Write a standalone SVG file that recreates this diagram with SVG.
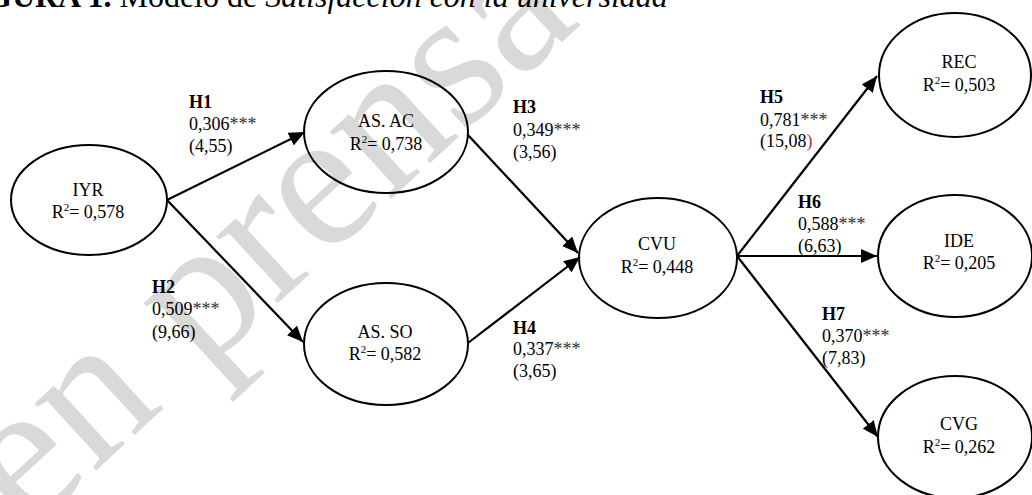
<svg xmlns="http://www.w3.org/2000/svg" width="1032" height="495" viewBox="0 0 1032 495">
  <style>
    text { font-family: "Liberation Serif", "Times New Roman", serif; fill: #000; }
    .node ellipse { fill: none; stroke: #000; stroke-width: 2; }
    .nt { font-size: 18px; text-anchor: middle; }
    .sup { font-size: 11px; }
    .lbl { font-size: 18px; }
    .h { font-weight: bold; }
    .ast { fill: #333; }
    .edge { stroke: #000; stroke-width: 2.2; fill: none; marker-end: url(#arr); }
    .wm { font-size: 198px; fill: #d9d9d9; }
    .title { font-size: 32px; }
  </style>
  <defs>
    <marker id="arr" markerUnits="userSpaceOnUse" markerWidth="18" markerHeight="14" refX="16" refY="7" orient="auto">
      <path d="M0,0 L16,7 L0,14 Z" fill="#000"/>
    </marker>
  </defs>
  <rect width="1032" height="495" fill="#fff"/>

  <text class="wm" transform="translate(28,533) rotate(-42.6)">en prensa</text>

  <text class="title" x="-45" y="7"><tspan font-weight="bold">FIGURA 1.</tspan> Modelo de <tspan font-style="italic">Satisfacción con la universidad</tspan></text>

  <g id="connectors">
    <line class="edge" x1="167" y1="200" x2="305" y2="132"/>
    <line class="edge" x1="167" y1="200" x2="303" y2="342"/>
    <line class="edge" x1="468" y1="135" x2="578" y2="253"/>
    <line class="edge" x1="468" y1="343" x2="580" y2="257"/>
    <line class="edge" x1="737" y1="256" x2="877" y2="76"/>
    <line class="edge" x1="737" y1="256" x2="877" y2="256"/>
    <line class="edge" x1="737" y1="256" x2="878" y2="437"/>
  </g>

  <g id="labels">
    <text class="lbl" x="189" y="108"><tspan class="h">H1</tspan><tspan x="189" y="130">0,306<tspan class="ast">***</tspan></tspan><tspan x="189" y="152">(4,55)</tspan></text>
    <text class="lbl" x="152" y="293"><tspan class="h">H2</tspan><tspan x="152" y="315">0,509<tspan class="ast">***</tspan></tspan><tspan x="152" y="338">(9,66)</tspan></text>
    <text class="lbl" x="513" y="113"><tspan class="h">H3</tspan><tspan x="513" y="136">0,349<tspan class="ast">***</tspan></tspan><tspan x="513" y="158">(3,56)</tspan></text>
    <text class="lbl" x="513" y="334"><tspan class="h">H4</tspan><tspan x="513" y="355">0,337<tspan class="ast">***</tspan></tspan><tspan x="513" y="377">(3,65)</tspan></text>
    <text class="lbl" x="760" y="103"><tspan class="h">H5</tspan><tspan x="760" y="126">0,781<tspan class="ast">***</tspan></tspan><tspan x="760" y="147">(15,08<tspan fill="#b03a2e">)</tspan></tspan></text>
    <text class="lbl" x="798" y="208"><tspan class="h">H6</tspan><tspan x="798" y="230">0,588<tspan class="ast">***</tspan></tspan><tspan x="798" y="252">(6,63)</tspan></text>
    <text class="lbl" x="822" y="320"><tspan class="h">H7</tspan><tspan x="822" y="342">0,370<tspan class="ast">***</tspan></tspan><tspan x="822" y="364">(7,83)</tspan></text>
  </g>

  <g id="node-IYR" class="node">
    <ellipse cx="89" cy="200" rx="78" ry="55"/>
    <text class="nt" x="88" y="196">IYR</text>
    <text class="nt" x="88" y="218">R<tspan class="sup" dy="-7">2</tspan><tspan dy="7">= 0,578</tspan></text>
  </g>
  <g id="node-ASAC" class="node">
    <ellipse cx="386" cy="132" rx="82" ry="61"/>
    <text class="nt" x="386" y="127">AS. AC</text>
    <text class="nt" x="386" y="150">R<tspan class="sup" dy="-7">2</tspan><tspan dy="7">= 0,738</tspan></text>
  </g>
  <g id="node-ASSO" class="node">
    <ellipse cx="386" cy="344" rx="82" ry="61"/>
    <text class="nt" x="385" y="338">AS. SO</text>
    <text class="nt" x="385" y="360">R<tspan class="sup" dy="-7">2</tspan><tspan dy="7">= 0,582</tspan></text>
  </g>
  <g id="node-CVU" class="node">
    <ellipse cx="658" cy="258" rx="79" ry="60"/>
    <text class="nt" x="657" y="250">CVU</text>
    <text class="nt" x="657" y="273">R<tspan class="sup" dy="-7">2</tspan><tspan dy="7">= 0,448</tspan></text>
  </g>
  <g id="node-REC" class="node">
    <ellipse cx="955" cy="75" rx="76" ry="62"/>
    <text class="nt" x="959" y="68">REC</text>
    <text class="nt" x="959" y="91">R<tspan class="sup" dy="-7">2</tspan><tspan dy="7">= 0,503</tspan></text>
  </g>
  <g id="node-IDE" class="node">
    <ellipse cx="955" cy="256" rx="77" ry="61"/>
    <text class="nt" x="959" y="247">IDE</text>
    <text class="nt" x="959" y="269">R<tspan class="sup" dy="-7">2</tspan><tspan dy="7">= 0,205</tspan></text>
  </g>
  <g id="node-CVG" class="node">
    <ellipse cx="955" cy="437" rx="77" ry="61"/>
    <text class="nt" x="959" y="430">CVG</text>
    <text class="nt" x="959" y="453">R<tspan class="sup" dy="-7">2</tspan><tspan dy="7">= 0,262</tspan></text>
  </g>
</svg>
